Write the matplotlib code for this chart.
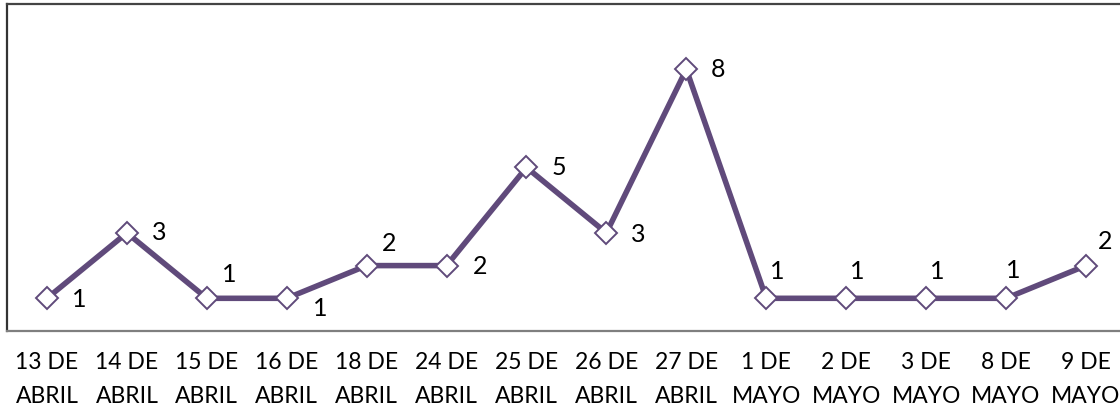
import matplotlib
matplotlib.use('Agg')
import matplotlib.pyplot as plt

# fechas y conteos
fechas = ['13 DE\nABRIL', '14 DE\nABRIL', '15 DE\nABRIL', '16 DE\nABRIL', '18 DE\nABRIL',
          '24 DE\nABRIL', '25 DE\nABRIL', '26 DE\nABRIL', '27 DE\nABRIL', '1 DE\nMAYO',
          '2 DE\nMAYO', '3 DE\nMAYO', '8 DE\nMAYO', '9 DE\nMAYO']
conteos = [1, 3, 1, 1, 2, 2, 5, 3, 8, 1, 1, 1, 1, 2]

# where each data label sits relative to its point (points)
label_offsets = [(23, -1), (23, 0), (16, 17), (24, -7), (16, 16), (24, -1), (23, 0),
                 (23, -1), (23, 0), (8, 19), (8, 19), (8, 19), (5, 20), (14, 17)]

plt.rcParams['font.family'] = ['Lato', 'DejaVu Sans']
purple = '#604a7b'

fig = plt.figure(figsize=(11.2, 4.13), dpi=100)
ax = fig.add_axes([0.00625, 0.1985, 0.999, 0.792])

x = list(range(len(conteos)))
ax.plot(x, conteos, color=purple, linewidth=4.0, marker='D', markersize=11,
        markerfacecolor='white', markeredgecolor=purple, markeredgewidth=1.4, zorder=3)

for i, v in enumerate(conteos):
    dx, dy = label_offsets[i]
    ax.annotate(str(v), (i, v), xytext=(dx, dy), textcoords='offset points',
                ha='center', va='center', fontsize=18, color='black')

ax.set_xlim(-0.5, len(conteos) - 0.5)
ax.set_ylim(0, 10)
ax.set_xticks(x)
ax.set_xticklabels(fechas, fontsize=16.5, linespacing=1.75)
ax.tick_params(axis='x', length=0, pad=15)
ax.set_yticks([])

ax.spines['left'].set_color('#333333')
ax.spines['top'].set_color('#444444')
ax.spines['bottom'].set_color('#7f7f7f')
ax.spines['right'].set_color('#7f7f7f')
for s in ax.spines.values():
    s.set_linewidth(1.6)

fig.savefig('out.png', dpi=100)
